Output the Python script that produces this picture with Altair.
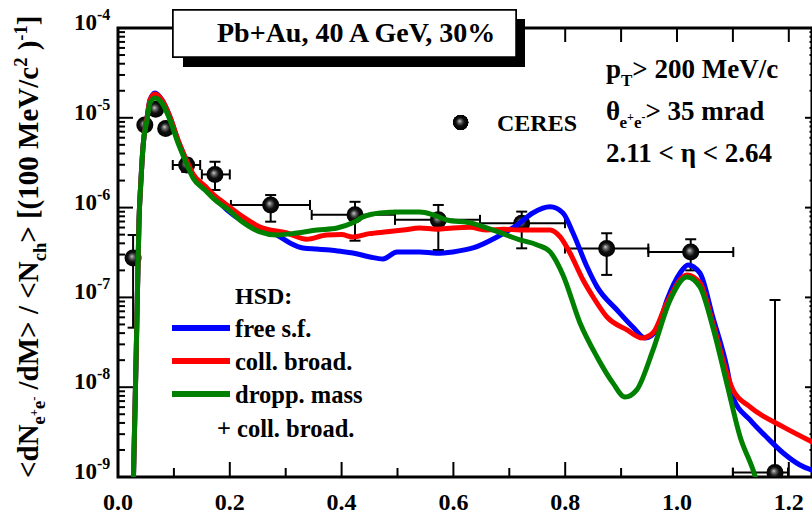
import altair as alt
import pandas as pd

# ---------------- data ----------------
blue_M = [0.0260, 0.0277, 0.0327, 0.0376, 0.0411, 0.0447, 0.0519, 0.0572, 0.0662, 0.0787, 0.093, 0.1073,
          0.1199, 0.1342, 0.1556, 0.1735, 0.1825, 0.2415, 0.284, 0.3077, 0.331, 0.355, 0.379, 0.400, 0.420,
          0.4508, 0.474, 0.499, 0.540, 0.570, 0.599, 0.635, 0.678, 0.7138, 0.742, 0.773, 0.796, 0.814, 0.839,
          0.857, 0.8927, 0.921, 0.9428, 0.964, 0.982, 1.0054, 1.0197, 1.041, 1.064, 1.089, 1.100, 1.1306,
          1.160, 1.190, 1.220, 1.245]
blue_y = [3.16e-10, 1.0e-9, 2.59e-8, 7.28e-7, 2.03e-6, 4.73e-6, 1.0e-5, 1.58e-5, 1.89e-5, 1.58e-5, 1.02e-5,
          5.62e-6, 3.63e-6, 2.29e-6, 1.66e-6, 1.29e-6, 1.12e-6, 6.08e-7, 4.95e-7, 4.04e-7, 3.55e-7, 3.45e-7,
          3.37e-7, 3.25e-7, 3.12e-7, 2.82e-7, 2.68e-7, 3.21e-7, 3.21e-7, 3.10e-7, 3.21e-7, 3.55e-7, 4.71e-7,
          6.40e-7, 8.71e-7, 1.02e-6, 8.71e-7, 5.21e-7, 2.19e-7, 1.31e-7, 7.24e-8, 4.68e-8, 3.53e-8, 4.34e-8,
          9.33e-8, 1.87e-7, 2.30e-7, 1.87e-7, 6.05e-8, 1.68e-8, 7.76e-9, 4.32e-9, 2.79e-9, 1.85e-9, 1.36e-9,
          1.17e-9]

red_M = [0.0260, 0.0277, 0.0327, 0.0376, 0.0411, 0.0447, 0.0519, 0.0572, 0.0662, 0.0787, 0.093, 0.1073,
         0.1199, 0.1342, 0.1556, 0.1735, 0.1825, 0.2182, 0.254, 0.302, 0.3375, 0.373, 0.400, 0.420, 0.450,
         0.481, 0.510, 0.540, 0.570, 0.599, 0.630, 0.660, 0.690, 0.719, 0.750, 0.773, 0.791, 0.8086, 0.832,
         0.850, 0.8748, 0.9106, 0.9374, 0.957, 0.982, 1.0179, 1.041, 1.064, 1.089, 1.100, 1.1306, 1.190, 1.245]
red_y = [3.16e-10, 1.0e-9, 2.59e-8, 7.28e-7, 2.03e-6, 4.73e-6, 1.0e-5, 1.58e-5, 1.84e-5, 1.58e-5, 1.02e-5,
         5.69e-6, 3.66e-6, 2.37e-6, 1.74e-6, 1.35e-6, 1.22e-6, 8.32e-7, 6.08e-7, 5.21e-7, 4.44e-7, 4.95e-7,
         5.01e-7, 4.71e-7, 5.13e-7, 5.37e-7, 5.62e-7, 5.93e-7, 5.75e-7, 5.93e-7, 6.03e-7, 5.62e-7, 5.75e-7,
         5.62e-7, 5.62e-7, 5.62e-7, 4.71e-7, 3.12e-7, 1.56e-7, 1.01e-7, 6.05e-8, 4.34e-8, 3.53e-8, 4.02e-8,
         8.71e-8, 1.78e-7, 1.45e-7, 5.19e-8, 1.44e-8, 9.33e-9, 6.03e-9, 3.61e-9, 2.40e-9]

green_M = [0.0260, 0.0277, 0.0327, 0.0376, 0.0411, 0.0447, 0.0519, 0.0572, 0.0662, 0.0787, 0.093, 0.1073,
           0.1199, 0.1342, 0.1556, 0.1735, 0.1825, 0.1968, 0.218, 0.254, 0.284, 0.320, 0.356, 0.392, 0.420,
           0.438, 0.469, 0.504, 0.540, 0.5635, 0.5886, 0.630, 0.671, 0.719, 0.750, 0.773, 0.796, 0.8265, 0.857,
           0.8855, 0.907, 0.928, 0.957, 0.9875, 1.018, 1.041, 1.064, 1.089, 1.113, 1.136, 1.150]
green_y = [3.16e-10, 1.0e-9, 2.59e-8, 7.28e-7, 2.03e-6, 4.73e-6, 9.44e-6, 1.46e-5, 1.66e-5, 1.46e-5, 9.44e-6,
           5.25e-6, 3.39e-6, 2.14e-6, 1.57e-6, 1.22e-6, 1.10e-6, 9.55e-7, 7.28e-7, 5.37e-7, 4.95e-7, 5.21e-7,
           5.62e-7, 5.93e-7, 6.76e-7, 7.85e-7, 8.71e-7, 8.91e-7, 8.91e-7, 8.32e-7, 7.28e-7, 6.76e-7, 5.62e-7,
           4.37e-7, 3.84e-7, 3.21e-7, 1.78e-7, 5.19e-8, 2.17e-8, 1.11e-8, 7.76e-9, 9.33e-9, 2.59e-8, 9.33e-8,
           1.69e-7, 1.31e-7, 4.68e-8, 1.11e-8, 2.79e-9, 1.20e-9, 6.3e-10]

ceres_M = [0.027, 0.048, 0.0674, 0.0853, 0.1229, 0.1735, 0.2731, 0.424, 0.573, 0.7222, 0.8742, 1.0245, 1.1753]
ceres_y = [2.75e-7, 8.3e-6, 1.245e-5, 7.6e-6, 2.98e-6, 2.34e-6, 1.07e-6, 8.3e-7, 7.3e-7, 6.7e-7, 3.5e-7,
           3.2e-7, 1.12e-9]
ceres_ylo = [4.6e-8, None, None, None, 2.5e-6, 1.57e-6, 6.97e-7, 4.28e-7, 3.37e-7, 3.52e-7, 1.78e-7, 2.0e-7, 1e-10]
ceres_yhi = [4.95e-7, None, None, None, 3.5e-6, 3.24e-6, 1.38e-6, 1.16e-6, 1.07e-6, 9.02e-7, 5.18e-7, 4.44e-7,
             9.35e-8]
ceres_xlo = [None, None, None, None, 0.098, 0.150, 0.202, 0.3465, 0.4955, 0.6476, 0.7996, 0.9487, 1.100]
ceres_xhi = [None, None, None, None, 0.147, 0.200, 0.3435, 0.4955, 0.6476, 0.7996, 0.9487, 1.1007, 1.1986]

x_major = [0.0, 0.2, 0.4, 0.6, 0.8, 1.0, 1.2]
x_minor = [0.1, 0.3, 0.5, 0.7, 0.9, 1.1]
x_labels = ["0.0", "0.2", "0.4", "0.6", "0.8", "1.0", "1.2"]
y_major = [1e-9, 1e-8, 1e-7, 1e-6, 1e-5, 1e-4]
y_sup = ["-9", "-8", "-7", "-6", "-5", "-4"]
y_minor = [k * d for d in [1e-9, 1e-8, 1e-7, 1e-6, 1e-5] for k in range(2, 10)]

# ---------------- layout ----------------
OX, OY = 118, 28
W, H = 694, 449
FONT = "Liberation Serif"
xs = alt.Scale(domain=[0, 1.2415], nice=False, zero=False)
ys = alt.Scale(type="log", domain=[1e-9, 1e-4], nice=False)

FW = {' ': .25, '<': .57, '>': .57, 'd': .556, 'N': .722, '/': .278, 'M': .944, '[': .333, '(': .333,
      ')': .333, ']': .333, 'e': .444, 'V': .722, 'c': .444, 'h': .556, '+': .57, '-': .333, 'p': .556,
      'T': .667, 'θ': .5, 'η': .556, '.': .25, 'm': .833, 'r': .444, 'a': .5}


def tw(s, fs):
    return sum(FW.get(ch, 0.5) for ch in s) * fs


def layout(pieces, start, rotated=False):
    rows = []
    s = 0.0
    for txt, fs, off in pieces:
        lead = len(txt) - len(txt.lstrip(' '))
        s += lead * 0.25 * fs
        t = txt.lstrip(' ')
        if rotated:
            rows.append(dict(t=t, fs=fs, x=off - OX, y=start - s - OY))
        else:
            rows.append(dict(t=t, fs=fs, x=start + s - OX, y=off - OY))
        s += tw(t, fs)
    return rows


ytitle = [("<dN", 29, 38), ("e", 18.5, 45), ("+", 12.5, 37.5), ("e", 18.5, 45), ("-", 12.5, 37.5),
          (" /dM> / <N", 29, 38), ("ch", 18.5, 46), ("> [(100 MeV/c", 29, 38), ("2", 18.5, 26.5),
          (" )", 29, 38), ("-1", 18.5, 26.5), ("]", 29, 38)]
rot_rows = layout(ytitle, 478, rotated=True)

hor_rows = []
hor_rows += layout([("p", 27, 78), ("T", 17, 86), ("> 200 MeV/c", 27, 78)], 606)
hor_rows += layout([("θ", 27, 120), ("e", 17, 128), ("+", 12, 120.5), ("e", 17, 128), ("-", 12, 120.5),
                    ("> 35 mrad", 27, 120)], 606)
hor_rows += layout([("2.11 < η < 2.64", 27, 162)], 606)
hor_rows += layout([("CERES", 24, 131)], 497)
hor_rows += layout([("HSD:", 24, 304)], 235)
hor_rows += layout([("free s.f.", 24.5, 337)], 235)
hor_rows += layout([("coll. broad.", 24.5, 370)], 235)
hor_rows += layout([("dropp. mass", 24.5, 403)], 235)
hor_rows += layout([("+ coll. broad.", 24.5, 437)], 217)
hor_rows += layout([("Pb+Au, 40 A GeV, 30%", 28, 42)], 217)

# ---------------- frames ----------------
curves = pd.concat([
    pd.DataFrame({"M": blue_M, "y": blue_y, "s": "blue"}),
    pd.DataFrame({"M": red_M, "y": red_y, "s": "red"}),
    pd.DataFrame({"M": green_M, "y": green_y, "s": "green"}),
])
ceres = pd.DataFrame({"M": ceres_M, "y": ceres_y, "lo": ceres_ylo, "hi": ceres_yhi,
                      "xlo": ceres_xlo, "xhi": ceres_xhi})
verr = ceres.dropna(subset=["lo", "hi"])
herr = ceres.dropna(subset=["xlo", "xhi"])

X = lambda f: alt.X(f, scale=xs, axis=None)
Y = lambda f: alt.Y(f, scale=ys, axis=None)
BLACK = "black"

layers = []
# ticks
xmaj = pd.DataFrame({"v": x_major, "lab": x_labels})
xmin = pd.DataFrame({"v": x_minor})
xtop = pd.DataFrame({"v": x_minor + x_major[1:]})
ymaj = pd.DataFrame({"v": y_major, "sup": y_sup, "ten": "10"})
ymin = pd.DataFrame({"v": y_minor})
rule = dict(color=BLACK, strokeWidth=2)
layers.append(alt.Chart(xmaj).mark_rule(**rule).encode(x=X("v:Q"), y=alt.value(H), y2=alt.value(H - 15)))
layers.append(alt.Chart(xmin).mark_rule(**rule).encode(x=X("v:Q"), y=alt.value(H), y2=alt.value(H - 9)))
layers.append(alt.Chart(xtop).mark_rule(**rule).encode(x=X("v:Q"), y=alt.value(0), y2=alt.value(14)))
layers.append(alt.Chart(ymaj).mark_rule(**rule).encode(y=Y("v:Q"), x=alt.value(0), x2=alt.value(15)))
layers.append(alt.Chart(ymin).mark_rule(**rule).encode(y=Y("v:Q"), x=alt.value(0), x2=alt.value(7)))
layers.append(alt.Chart(ymaj).mark_rule(**rule).encode(y=Y("v:Q"), x=alt.value(W - 7), x2=alt.value(W)))
layers.append(alt.Chart(ymin).mark_rule(**rule).encode(y=Y("v:Q"), x=alt.value(W - 2.5), x2=alt.value(W)))

# tick labels
layers.append(alt.Chart(xmaj).mark_text(font=FONT, fontWeight="bold", fontSize=24, baseline="alphabetic",
                                        align="center", color=BLACK)
              .encode(x=X("v:Q"), y=alt.value(H + 33), text="lab:N"))
layers.append(alt.Chart(ymaj).mark_text(font=FONT, fontWeight="bold", fontSize=23, baseline="alphabetic",
                                        align="right", dy=2, color=BLACK)
              .encode(y=Y("v:Q"), x=alt.value(-21), text="ten:N"))
layers.append(alt.Chart(ymaj).mark_text(font=FONT, fontWeight="bold", fontSize=16, baseline="alphabetic",
                                        align="left", dy=-8, color=BLACK)
              .encode(y=Y("v:Q"), x=alt.value(-21), text="sup:N"))

# error bars
eb = dict(color=BLACK, strokeWidth=2, clip=True)
layers.append(alt.Chart(verr).mark_rule(**eb).encode(x=X("M:Q"), y=Y("lo:Q"), y2="hi:Q"))
layers.append(alt.Chart(herr).mark_rule(**eb).encode(x=X("xlo:Q"), x2="xhi:Q", y=Y("y:Q")))
for f in ["lo", "hi"]:
    layers.append(alt.Chart(verr).mark_rule(xOffset=-5.5, x2Offset=5.5, **eb)
                  .encode(x=X("M:Q"), x2="M:Q", y=Y(f + ":Q")))
for f in ["xlo", "xhi"]:
    layers.append(alt.Chart(herr).mark_rule(yOffset=-5, y2Offset=5, **eb)
                  .encode(x=X(f + ":Q"), y=Y("y:Q"), y2="y:Q"))

sphere = {"gradient": "radial", "x1": 0.42, "y1": 0.4, "r1": 0.0, "x2": 0.5, "y2": 0.5, "r2": 0.5,
          "stops": [{"offset": 0, "color": "#d8d8d8"}, {"offset": 0.22, "color": "#707070"},
                    {"offset": 0.55, "color": "#101010"}, {"offset": 1, "color": "#000000"}]}
layers.append(alt.Chart(ceres).mark_point(shape="circle", filled=True, fill=sphere, size=289, opacity=1,
                                          strokeWidth=0, clip=True)
              .encode(x=X("M:Q"), y=Y("y:Q")))

# curves
for name, col in [("blue", "#0000ff"), ("red", "#ff0000"), ("green", "#008000")]:
    layers.append(alt.Chart(curves[curves.s == name]).mark_line(color=col, strokeWidth=5, clip=True,
                                                                   interpolate="monotone")
                  .encode(x=X("M:Q"), y=Y("y:Q")))

# title box with shadow
layers.append(alt.Chart(xmaj).mark_rect(color=BLACK).encode(
    x=alt.value(65), x2=alt.value(407), y=alt.value(-9), y2=alt.value(39)))
layers.append(alt.Chart(xmaj).mark_rect(fill="white", stroke=BLACK, strokeWidth=1.5).encode(
    x=alt.value(55), x2=alt.value(398), y=alt.value(-18), y2=alt.value(29)))

# legend lines and marker
for yy, col in [(300, "#0000ff"), (333, "#ff0000"), (366, "#008000")]:
    layers.append(alt.Chart(xmaj).mark_rule(color=col, strokeWidth=5).encode(
        x=alt.value(54), x2=alt.value(112), y=alt.value(yy)))
layers.append(alt.Chart(xmaj).mark_point(shape="circle", filled=True, fill=sphere, size=225, opacity=1,
                                         strokeWidth=0)
              .encode(x=alt.value(342.7), y=alt.value(94.5)))

# texts
txt = dict(font=FONT, fontWeight="bold", align="left", baseline="alphabetic", color=BLACK)
layers.append(alt.Chart(pd.DataFrame(hor_rows)).mark_text(**txt).encode(
    x=alt.X("x:Q", scale=None, axis=None), y=alt.Y("y:Q", scale=None, axis=None),
    text="t:N", size=alt.Size("fs:Q", scale=None, legend=None)))
layers.append(alt.Chart(pd.DataFrame(rot_rows)).mark_text(angle=270, **txt).encode(
    x=alt.X("x:Q", scale=None, axis=None), y=alt.Y("y:Q", scale=None, axis=None),
    text="t:N", size=alt.Size("fs:Q", scale=None, legend=None)))

chart = (alt.layer(*layers)
         .resolve_scale(x="independent", y="independent")
         .properties(width=W, height=H, background="white",
                     padding={"left": OX, "top": OY, "right": 0, "bottom": 516 - OY - H},
                     autosize=alt.AutoSizeParams(type="none"))
         .configure_view(stroke=BLACK, strokeWidth=3))

chart.save("out.html", embed_options={"renderer": "svg", "actions": False})
